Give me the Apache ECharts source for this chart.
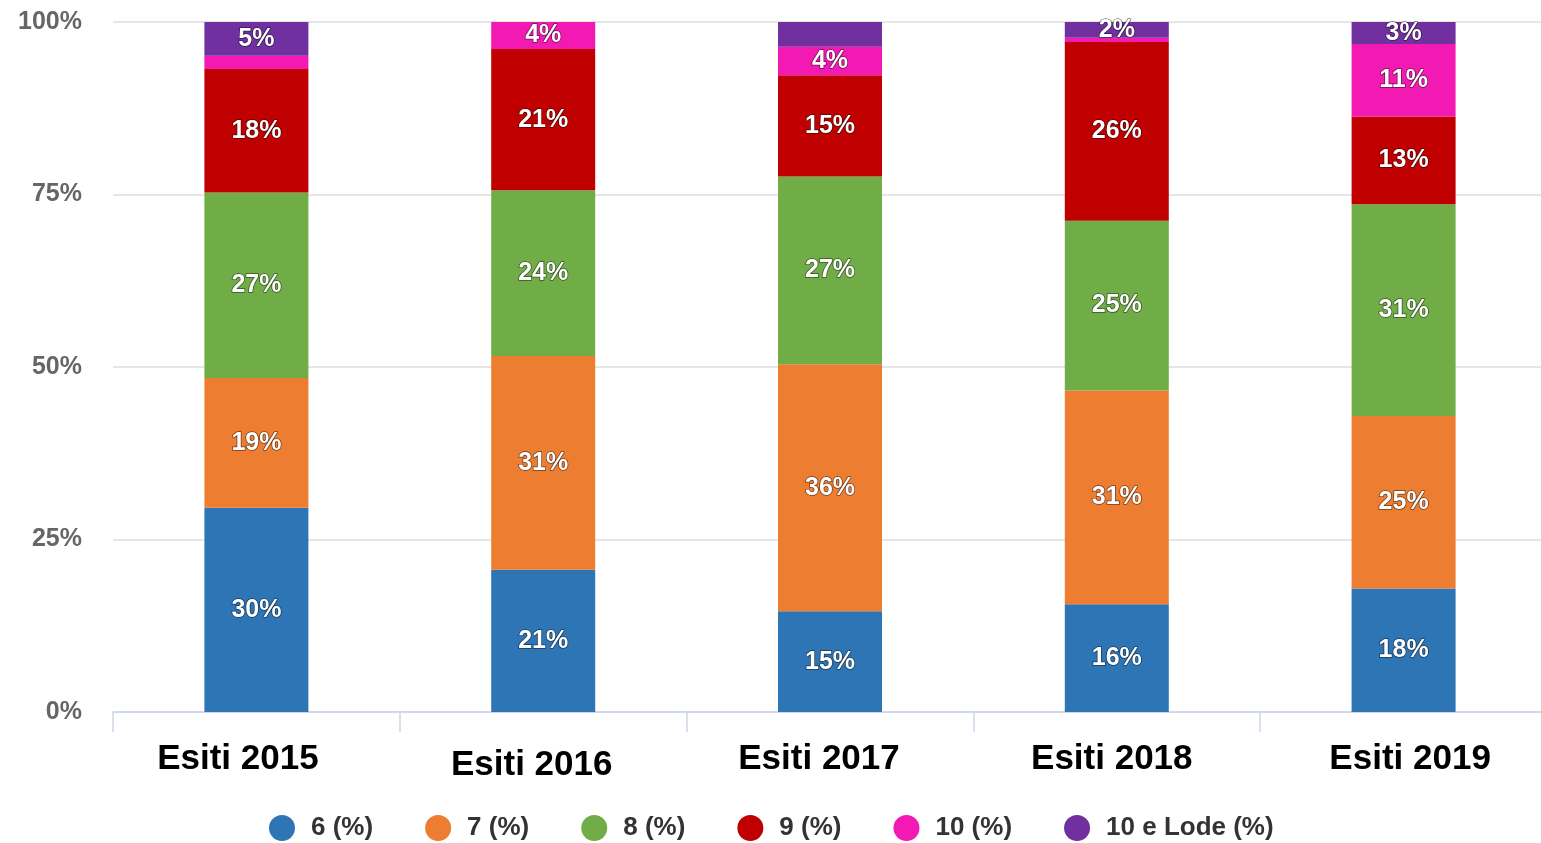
<!DOCTYPE html>
<html>
<head>
<meta charset="utf-8">
<title>Esiti 2015-2019</title>
<script src="https://cdn.jsdelivr.net/npm/echarts@6/dist/echarts.min.js"></script>
<style>
  html, body { margin: 0; padding: 0; background: #fff; overflow: hidden; }
  /* il grafico originale è tagliato a destra: l'area del grafico sborda di qualche pixel */
  #chart { width: 1547px; height: 843px; }
</style>
</head>
<body>
<div id="chart"></div>
<script>
// categorie e valori (percentuali)
const categories = ['Esiti 2015', 'Esiti 2016', 'Esiti 2017', 'Esiti 2018', 'Esiti 2019']
const seriesNames = ['6 (%)', '7 (%)', '8 (%)', '9 (%)', '10 (%)', '10 e Lode (%)']
const voto6 = [29.6, 20.6, 14.6, 15.6, 17.9]
const voto7 = [18.8, 31.0, 35.8, 31.0, 25.0]
const voto8 = [26.9, 24.0, 27.2, 24.6, 30.7]
const voto9 = [17.9, 20.5, 14.7, 25.9, 12.7]
const voto10 = [1.9, 3.9, 4.1, 0.6, 10.5]
const voto10Lode = [4.9, 0, 3.6, 2.3, 3.2]
const yTicks = [0, 25, 50, 75, 100]
// etichette nascoste nell'originale (serie, categoria)
const hiddenLabels = [[4, 0], [5, 2], [4, 3], [5, 1]]

const colors = ['#2e75b6', '#ed7d31', '#70ad47', '#c00000', '#f21ab2', '#7030a0']
const values = [voto6, voto7, voto8, voto9, voto10, voto10Lode]
const font = "'Liberation Sans', Arial, sans-serif"

// piccoli spostamenti delle etichette di categoria come nell'originale
const catRich = {
  c0: { padding: [0, 37, 0, 0] },
  c1: { padding: [6, 23, 0, 0] },
  c2: { padding: [0, 22, 0, 0] },
  c3: { padding: [0, 10, 0, 0] },
  c4: { padding: [0, 0, 0, 13] },
}
Object.values(catRich).forEach(r => {
  r.fontFamily = font
  r.fontSize = 35
  r.fontWeight = 'bold'
  r.color = '#000'
})

const chart = echarts.init(document.getElementById('chart'))

chart.setOption({
  animation: false,
  color: colors,
  grid: { left: 113, right: 0, top: 22, bottom: 131, containLabel: false },
  legend: {
    data: seriesNames,
    left: 269,
    top: 815,
    padding: 0,
    icon: 'circle',
    itemWidth: 26,
    itemHeight: 26,
    itemGap: 52,
    textStyle: {
      fontFamily: font,
      fontSize: 26,
      fontWeight: 'bold',
      color: '#333',
      padding: [0, 0, 0, 11],
    },
  },
  xAxis: {
    type: 'category',
    data: categories,
    axisLine: { lineStyle: { color: '#ccd6eb', width: 1.5 } },
    axisTick: { show: true, length: 20, lineStyle: { color: '#ccd6eb', width: 1.5 } },
    axisLabel: {
      margin: 30,
      formatter: (v, i) => '{c' + i + '|' + v + '}',
      rich: catRich,
    },
  },
  yAxis: {
    type: 'value',
    min: 0,
    max: 100,
    interval: 25,
    axisLabel: {
      margin: 31,
      fontFamily: font,
      fontSize: 25,
      fontWeight: 'bold',
      color: '#666',
      formatter: v => (yTicks.includes(v) ? v + '%' : ''),
    },
    splitLine: { lineStyle: { color: '#e6e6e6', width: 2 } },
    axisLine: { show: false },
    axisTick: { show: false },
  },
  series: seriesNames.map((name, si) => ({
    name,
    type: 'bar',
    stack: 'tot',
    barWidth: 104,
    data: values[si],
    label: {
      show: true,
      position: 'inside',
      fontFamily: font,
      fontSize: 25,
      fontWeight: 'bold',
      color: '#fff',
      textBorderColor: 'rgba(0,0,0,0.55)',
      textBorderWidth: 1.5,
      formatter: p => {
        if (!p.value) return ''
        if (hiddenLabels.some(h => h[0] === si && h[1] === p.dataIndex)) return ''
        return Math.round(p.value) + '%'
      },
    },
  })),
})
</script>
</body>
</html>
